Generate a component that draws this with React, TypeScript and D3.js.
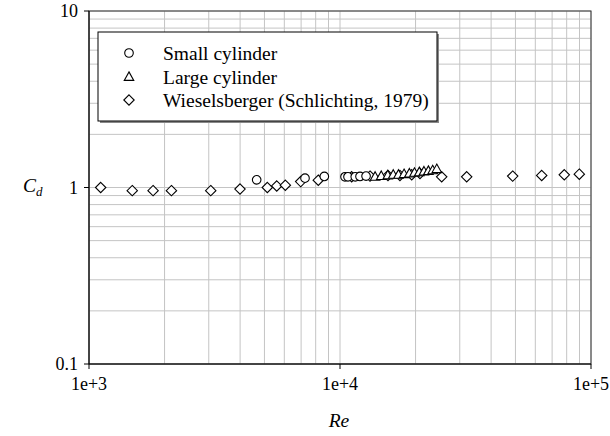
import React from "react";
import * as d3 from "d3";

const W = 610;
const H = 436;
const M = { left: 89, right: 591, top: 11, bottom: 364 };

const xTicks = [1e3, 1e4, 1e5];
const xTickLabels = ["1e+3", "1e+4", "1e+5"];
const yTicks = [0.1, 1, 10];
const yTickLabels = ["0.1", "1", "10"];

const smallRe = [4656, 7254, 8660, 10470, 10760, 11500, 12015, 12700];
const smallCd = [1.105, 1.13, 1.155, 1.15, 1.15, 1.15, 1.155, 1.16];

const largeRe = [13800, 14600, 15500, 16300, 17100, 18000, 18900, 19800, 20700, 21600, 22500, 23400, 24300];
const largeCd = [1.15, 1.16, 1.17, 1.18, 1.18, 1.19, 1.2, 1.21, 1.22, 1.23, 1.24, 1.25, 1.27];

const wieRe = [1113, 1487, 1800, 2130, 3055, 3996, 5134, 5597, 6057, 6973, 8194, 11130, 13170, 15530, 17330, 19310, 20830, 25420, 31970, 48750, 63620, 78260, 89820];
const wieCd = [1.0, 0.96, 0.96, 0.96, 0.96, 0.98, 1.0, 1.02, 1.03, 1.08, 1.1, 1.15, 1.16, 1.17, 1.17, 1.18, 1.2, 1.15, 1.15, 1.16, 1.17, 1.18, 1.19];

const legendLabels = ["Small cylinder", "Large cylinder", "Wieselsberger (Schlichting, 1979)"];

const FONT = "Liberation Serif, Times New Roman, serif";

function minorValues(lo: number, hi: number) {
  const out: number[] = [];
  for (let p = Math.log10(lo); p < Math.log10(hi); p++) {
    for (let k = 1; k <= 9; k++) out.push(k * Math.pow(10, p));
  }
  out.push(hi);
  return out;
}

const circlePath = (r: number) => d3.symbol(d3.symbolCircle, Math.PI * r * r)() as string;
const triPath = (s: number) => {
  const h = s * 0.9;
  return `M0,${-h * 0.6}L${s / 2},${h * 0.4}L${-s / 2},${h * 0.4}Z`;
};
const diaPath = (r: number) => `M0,${-r}L${r},0L0,${r}L${-r},0Z`;

function Marker({ kind, x, y }: { kind: string; x: number; y: number }) {
  const d = kind === "c" ? circlePath(4.3) : kind === "t" ? triPath(9.5) : diaPath(5.2);
  return <path d={d} transform={`translate(${x},${y})`} fill="white" stroke="black" strokeWidth={1.1} />;
}

export default function App() {
  const x = d3.scaleLog().domain([1e3, 1e5]).range([M.left, M.right]);
  const y = d3.scaleLog().domain([0.1, 10]).range([M.bottom, M.top]);
  const xg = minorValues(1e3, 1e5);
  const yg = minorValues(0.1, 10);

  const legendX = 98, legendY = 32, legendW = 339, legendH = 89;
  const rows = [53, 77, 100];
  const txt = { fontFamily: FONT };

  return (
    <svg width={W} height={H} style={{ position: "absolute", left: 0, top: 0, background: "white", fontFamily: FONT }}>
      <rect width={W} height={H} fill="white" />
      {xg.map((v, i) => (
        <line key={"xg" + i} x1={x(v)} x2={x(v)} y1={M.top} y2={M.bottom} stroke="#c4c4c4" strokeWidth={1} />
      ))}
      {yg.map((v, i) => (
        <line key={"yg" + i} x1={M.left} x2={M.right} y1={y(v)} y2={y(v)} stroke="#c4c4c4" strokeWidth={1} />
      ))}
      <rect x={M.left} y={M.top} width={M.right - M.left} height={M.bottom - M.top} fill="none" stroke="#333" strokeWidth={1} />
      <line x1={M.left} x2={M.left} y1={M.top} y2={M.bottom} stroke="black" />
      <line x1={M.left} x2={M.right} y1={M.bottom} y2={M.bottom} stroke="black" />
      {xTicks.map((v, i) => (
        <g key={"xt" + i}>
          <line x1={x(v)} x2={x(v)} y1={M.bottom} y2={M.bottom + 5} stroke="black" />
          <text x={x(v)} y={M.bottom + 26} textAnchor="middle" fontSize={18} style={txt}>{xTickLabels[i]}</text>
        </g>
      ))}
      {yTicks.map((v, i) => (
        <g key={"yt" + i}>
          <line x1={M.left - 5} x2={M.left} y1={y(v)} y2={y(v)} stroke="black" />
          <text x={M.left - 11} y={y(v)} dy="0.35em" textAnchor="end" fontSize={18} style={txt}>{yTickLabels[i]}</text>
        </g>
      ))}
      <text x={(M.left + M.right) / 2 - 1} y={427} textAnchor="middle" fontSize={19.5} fontStyle="italic" style={txt}>Re</text>
      <text x={23} y={192} fontSize={19.5} fontStyle="italic" style={txt}>
        C<tspan fontSize={13} dy={4}>d</tspan>
      </text>

      {wieRe.map((v, i) => <Marker key={"w" + i} kind="d" x={x(v)} y={y(wieCd[i])} />)}
      {smallRe.map((v, i) => <Marker key={"s" + i} kind="c" x={x(v)} y={y(smallCd[i])} />)}
      {largeRe.map((v, i) => <Marker key={"l" + i} kind="t" x={x(v)} y={y(largeCd[i])} />)}

      <rect x={legendX + 2} y={legendY + 2} width={legendW} height={legendH} fill="#888" />
      <rect x={legendX} y={legendY} width={legendW} height={legendH} fill="white" stroke="black" strokeWidth={1} />
      {legendLabels.map((t, i) => (
        <g key={"lg" + i}>
          <Marker kind={["c", "t", "d"][i]} x={129} y={rows[i]} />
          <text x={163} y={rows[i]} dy="0.35em" fontSize={19.5} style={txt}>{t}</text>
        </g>
      ))}
    </svg>
  );
}
